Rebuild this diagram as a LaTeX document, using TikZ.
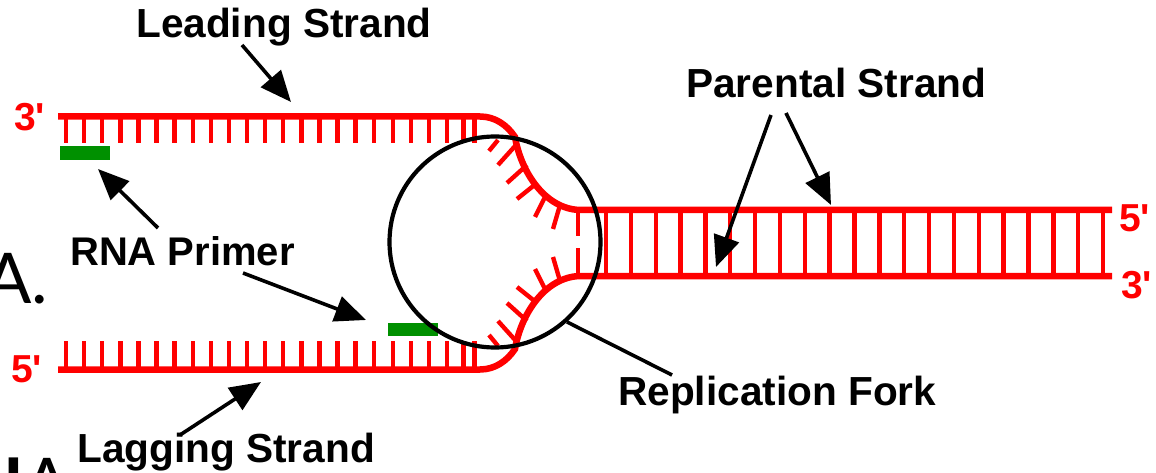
\documentclass[tikz,border=0pt]{standalone}
\usepackage{fontspec}
\setmainfont{Liberation Sans}
\newfontfamily\outerfont{Lato}
\newfontfamily\endfont{Liberation Sans}
\usetikzlibrary{arrows.meta}
\definecolor{primergreen}{RGB}{0,144,0}
\tikzset{
  strand/.style={draw=red,line width=6.5pt},
  basepair/.style={draw=red,line width=4.4pt},
  primerbar/.style={fill=primergreen,draw=none},
  pointer/.style={draw=black,line width=3.6pt,-{Triangle[length=31pt,width=26pt]}},
  pointerplain/.style={draw=black,line width=3.6pt},
  forkcircle/.style={draw=black,line width=4.2pt},
  caption/.style={font=\bfseries\fontsize{40.6}{40.6}\selectfont,text=black,inner sep=0pt,anchor=base west},
  endlabel/.style={font=\endfont\bfseries\fontsize{39}{39}\selectfont,text=red,inner sep=0pt,anchor=base west},
  outer/.style={font=\outerfont\fontsize{70}{70}\selectfont,text=black,inner sep=0pt,anchor=base west},
}
\begin{document}
\begin{tikzpicture}[x=1pt,y=-1pt]
\useasboundingbox (0,0) rectangle (1156,473);
\clip (0,0) rectangle (1156,473);

% text running off the left edge
\node[outer] (outerA) at (-16,303) {A.};
\node[outer] (outerB) at (3,508) {{\bfseries I}A};

% base pairs on the two daughter arms
\foreach \x in {66,84.1,102.2,120.3,138.4,156.5,174.6,192.7,210.8,228.9,247,265.1,283.2,301.3,319.4,337.5,355.6,373.7,392.7,410.7,428.7,446.7,463.3,474.3}{
  \draw[basepair] (\x,116) -- (\x,143);
  \draw[basepair] (\x,369) -- (\x,341);
}
% base pairs along the opening fork
\foreach \ax/\ay/\bx/\by in {498/140/489/151, 516/145/498/165, 527/165/507/183, 537/183/517/199, 545/197/535/217, 560/205/553/229}{
  \draw[basepair] (\ax,\ay) -- (\bx,\by);
  \draw[basepair] (\ax,486-\ay) -- (\bx,486-\by);
}
\draw[basepair] (578,210) -- (578,236);
\draw[basepair] (578,276) -- (578,248);
% base pairs of the parental duplex
\foreach \k in {0,...,20}{
  \draw[basepair] ({606+24.85*\k},210) -- ({606+24.85*\k},276);
}

% backbones
\draw[strand] (58,116.5) -- (480,116.5)
  .. controls (495,116.5) and (507,125) .. (515,137)
  .. controls (521,172) and (545,209) .. (580,210) -- (1112,210);
\draw[strand] (58,369.5) -- (480,369.5)
  .. controls (495,369.5) and (507,361) .. (515,349)
  .. controls (521,314) and (545,277) .. (580,276) -- (1112,276);

% RNA primers
\node[primerbar,minimum width=50pt,minimum height=14pt,inner sep=0pt] (primerA) at (84.5,153) {};
\node[primerbar,minimum width=50pt,minimum height=13pt,inner sep=0pt] (primerB) at (413,329.5) {};

% replication fork marker
\node[forkcircle,circle,minimum size=211pt,inner sep=0pt] (fork) at (495,242) {};

% captions
\node[caption] (leading) at (136,38) {Leading Strand};
\node[caption] (parental) at (686,98) {Parental Strand};
\node[caption,font=\bfseries\fontsize{40}{40}\selectfont] (rna) at (70,265) {RNA Primer};
\node[caption] (replication) at (618,405) {Replication Fork};
\node[caption] (lagging) at (77,462) {Lagging Strand};

% strand end labels
\node[endlabel] (endA) at (14,131) {3'};
\node[endlabel] (endB) at (11,382) {5'};
\node[endlabel] (endC) at (1119,232) {5'};
\node[endlabel] (endD) at (1121,298) {3'};

% pointers
\coordinate (leadFrom) at (242,45);
\coordinate (leadTo) at (291,102);
\coordinate (parFromL) at (771,115);
\coordinate (parToL) at (716,267);
\coordinate (parFromR) at (786,113);
\coordinate (parToR) at (831,205);
\coordinate (rnaFromA) at (158,228);
\coordinate (rnaToA) at (98,169);
\coordinate (rnaFromB) at (243,273);
\coordinate (rnaToB) at (366,320);
\coordinate (lagFrom) at (180,435);
\coordinate (lagTo) at (261,382);
\coordinate (forkTo) at (672,375);
\draw[pointer] (leadFrom) -- (leadTo);
\draw[pointer] (parFromL) -- (parToL);
\draw[pointer] (parFromR) -- (parToR);
\draw[pointer] (rnaFromA) -- (rnaToA);
\draw[pointer] (rnaFromB) -- (rnaToB);
\draw[pointer] (lagFrom) -- (lagTo);
\draw[pointerplain] (fork.-48) -- (forkTo);
\end{tikzpicture}
\end{document}
